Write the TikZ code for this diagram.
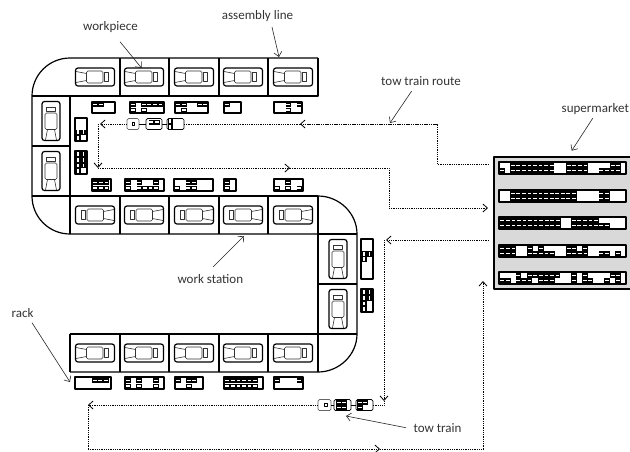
\documentclass[tikz,border=0pt]{standalone}
\usepackage{fontspec}
\setmainfont{Carlito}
\usetikzlibrary{arrows.meta}
\tikzset{
	wall/.style={line width=1.2pt},
	rackbox/.style={draw=black,fill=white,line width=1.1pt},
	route/.style={densely dotted,line width=.8pt},
	leader/.style={line width=.6pt,black!85},
	lbl/.style={anchor=base,inner sep=0pt,font=\fontsize{13}{15}\selectfont,black!80},
	cart/.style={draw=black!60,fill=white,rounded corners=1.5pt,line width=.7pt,inner sep=0pt,minimum height=11pt},
	car/.pic={
		\draw[line width=1.2pt,rounded corners=2.5pt] (-19.5,-9) rectangle (19.5,9);
		\draw[line width=.6pt,rounded corners=1.5pt,black!80] (-8.5,-6) rectangle (8,6);
		\draw[line width=.6pt,black!80] (-19,-5.5) -- (-8.5,-3.5) (-19,5.5) -- (-8.5,3.5);
		\draw[line width=.6pt,black!80] (9.5,-4.5) rectangle (13.5,4.5);
	}
}
\newcommand{\binrow}[3]{\foreach \i in {1,...,#3} {
	\fill[black] ({#1+(\i-1)*5.55},#2) rectangle +(5.55,5);
	\fill[white] ({#1+(\i-1)*5.55+.9},#2+1.6) rectangle +(3.75,1.7);}}
\newcommand{\bincol}[3]{\foreach \i in {1,...,#3} {
	\fill[black] (#1,{#2+(\i-1)*5.55}) rectangle +(5,5.55);
	\fill[white] (#1+1.6,{#2+(\i-1)*5.55+.9}) rectangle +(1.7,3.75);}}
\begin{document}
\begin{tikzpicture}[x=1pt,y=-1pt,>={Straight Barb[length=4.5pt,width=8pt]},line join=round]
	\useasboundingbox (0,0) rectangle (630,451);
	% line outline
	\draw[wall] (318,58) -- (70,58) .. controls (49,58) and (32,75) .. (32,96) -- (32,196) .. controls (32,217) and (49,234) .. (70,234) -- (318,234);
	\draw[wall] (318,196) .. controls (339,196) and (357,213) .. (357,234) -- (357,334) .. controls (357,355) and (339,372) .. (318,372) -- (70,372);
	\draw[wall] (70,96) -- (318,96) -- (318,58);
	\draw[wall] (70,196) -- (318,196) (70,334) -- (318,334) -- (318,372) (70,334) -- (70,372);
	\draw[wall] (32,96) -- (70,96) -- (70,234) (32,146) -- (70,146) (32,196) -- (70,196);
	\draw[wall] (318,196) -- (318,334) (318,234) -- (357,234) (318,284) -- (357,284) (318,334) -- (357,334);
	\foreach \x in {120,169,219,268}
		\draw[wall] (\x,58) -- (\x,96) (\x,196) -- (\x,234) (\x,334) -- (\x,372);
	% cars
	\foreach \x in {95,144,194,243,293} {
		\pic at (\x,77) {car};
		\pic[xscale=-1] at (\x,215) {car};
		\pic at (\x,353) {car};
	}
	\foreach \y in {121,171} \pic[rotate=90] at (51,\y) {car};
	\foreach \y in {259,309} \pic[rotate=90] at (338,\y) {car};
	% racks top
	\draw[rackbox] (92,102) rectangle (115,113);
	\binrow{92.5}{102}{2}
	\draw[rackbox] (130,102) rectangle (164,113);
	\binrow{130.5}{102}{1} \binrow{130.5}{107.5}{1} \binrow{141}{102}{1} \binrow{141}{107.5}{1} \binrow{146.5}{102}{3}
	\draw[rackbox] (175,102) rectangle (208,113);
	\binrow{175}{102}{1} \binrow{181}{102}{1} \binrow{181}{107.5}{1} \binrow{197}{102}{2}
	\draw[rackbox] (224,102) rectangle (241,113);
	\binrow{224.5}{102}{1}
	\draw[rackbox] (274,102) rectangle (302,113);
	\binrow{285.5}{102}{1} \binrow{285.5}{107.5}{1} \binrow{296.5}{102}{1}
	% racks middle
	\draw[rackbox] (92,179) rectangle (111,191);
	\binrow{92.5}{180}{3} \binrow{92.5}{185.5}{3}
	\draw[rackbox] (125,179) rectangle (164,191);
	\binrow{125.5}{180}{1} \binrow{136.5}{180}{1} \binrow{153}{180}{1} \binrow{125.5}{185.5}{1} \binrow{136.5}{185.5}{4}
	\draw[rackbox] (174,179) rectangle (213,191);
	\binrow{185.5}{180}{2} \binrow{174.5}{185.5}{1} \binrow{185.5}{185.5}{2}
	\draw[rackbox] (224,179) rectangle (236,191);
	\binrow{224.5}{180}{1} \binrow{224.5}{185.5}{1}
	\draw[rackbox] (274,179) rectangle (303,191);
	\binrow{285}{180}{1} \binrow{274.5}{185.5}{1} \binrow{285}{185.5}{1} \binrow{296.5}{185.5}{1}
	% racks bottom
	\draw[rackbox] (75,377) rectangle (111,389);
	\binrow{92}{378}{3}
	\draw[rackbox] (125,377) rectangle (164,389);
	\foreach \x in {125.5,136,153} {\binrow{\x}{378}{1} \binrow{\x}{383.5}{1}}
	\draw[rackbox] (175,377) rectangle (203,389);
	\binrow{175}{378}{1} \binrow{186}{378}{2} \binrow{186}{383.5}{1}
	\draw[rackbox] (224,377) rectangle (263,389);
	\binrow{224.5}{378}{6} \binrow{224.5}{383.5}{6}
	\draw[rackbox] (274,377) rectangle (303,389);
	\binrow{274.5}{378}{1} \binrow{296.5}{378}{1}
	% racks at the bends
	\draw[rackbox] (75,118) rectangle (87,141);
	\bincol{75.5}{129.5}{2} \bincol{81}{129.5}{1}
	\draw[rackbox] (75,151) rectangle (87,174);
	\bincol{75.5}{151.5}{4} \bincol{81}{151.5}{3}
	\draw[rackbox] (361,239) rectangle (373,279);
	\bincol{361.5}{251}{2} \bincol{367}{251}{1}
	\draw[rackbox] (361,289) rectangle (373,312);
	\bincol{361.5}{289.5}{4} \bincol{367}{289.5}{2}
	% supermarket
	\draw[fill=black!15,line width=1.4pt] (494,157) rectangle (632,289);
	\foreach \y in {162,190,217,245,272} \draw[rackbox] (499,\y) rectangle (626,\y+12);
	\binrow{510}{163}{8} \binrow{510}{168}{8} \binrow{566}{163}{4} \binrow{566}{168}{4} \binrow{610}{163}{2} \binrow{598.5}{168}{4} \binrow{499.5}{168}{1}
	\binrow{510}{191}{12} \binrow{510}{196}{12} \binrow{598.5}{191}{2} \binrow{598.5}{196}{2}
	\binrow{499.5}{218}{11} \binrow{499.5}{223}{11} \binrow{571}{218}{5} \binrow{571}{223}{5} \binrow{598.5}{223}{2}
	\binrow{499.5}{246}{3} \binrow{499.5}{251}{3} \binrow{527}{246}{1} \binrow{538}{246}{1} \binrow{527}{251}{5} \binrow{566}{246}{2} \binrow{582}{246}{1} \binrow{566}{251}{4} \binrow{598.5}{251}{2} \binrow{615}{251}{1}
	\binrow{515.5}{273}{1} \binrow{527}{273}{6} \binrow{571}{273}{1} \binrow{582}{273}{1} \binrow{610}{273}{2}
	\binrow{499.5}{278}{2} \binrow{515.5}{278}{3} \binrow{538}{278}{3} \binrow{571}{278}{1} \binrow{582}{278}{2} \binrow{604}{278}{1} \binrow{615}{278}{1}
	% tow trains
	\node[cart,minimum width=12pt] (cartA) at (133,124) {};
	\node[cart,draw=black,minimum width=16pt] (cartB) at (154,124) {};
	\node[cart,draw=black,minimum width=17pt] (cartC) at (175.5,124) {};
	\draw[line width=.7pt] (cartA) -- (cartB) (cartB) -- (cartC);
	\draw[line width=.6pt] (132,122.7) rectangle +(2.5,2.5);
	\binrow{148.5}{119.5}{2}
	\bincol{167.5}{118.5}{2}
	\node[cart,minimum width=13pt] (cartD) at (324.5,405) {};
	\node[cart,draw=black,minimum width=17pt] (cartE) at (342.5,405) {};
	\node[cart,draw=black,minimum width=17pt] (cartF) at (364.5,405) {};
	\draw[line width=.7pt] (cartD) -- (cartE) (cartE) -- (cartF);
	\draw[line width=.6pt] (324.5,403.5) rectangle +(3,3);
	\binrow{336}{400}{2} \binrow{336}{405}{2}
	\binrow{357}{400}{2} \binrow{357}{405}{1}
	% route
	\coordinate (smA) at (489,164);
	\coordinate (smB) at (437,164);
	\coordinate (rtA) at (437,124);
	\coordinate (rtAr) at (300,124);
	\coordinate (rtB) at (100,124);
	\coordinate (rtC) at (98,124);
	\coordinate (rtD) at (98,168);
	\coordinate (rtDr) at (290,168);
	\coordinate (rtE) at (389,168);
	\coordinate (rtF) at (389,208);
	\coordinate (smC) at (488,208);
	\coordinate (smD) at (489,240);
	\coordinate (rtG) at (386,240);
	\coordinate (rtH) at (384,240);
	\coordinate (rtI) at (384,405);
	\coordinate (rtJ) at (88,405);
	\coordinate (rtK) at (88,449);
	\coordinate (rtKr) at (380,449);
	\coordinate (rtL) at (483,449);
	\coordinate (smE) at (483,281);
	\draw[route] (smA) -- (smB) -- (rtA) -- (rtAr);
	\draw[route,->] (rtA) -- (rtAr);
	\draw[route] (rtAr) -- (cartC);
	\draw[route,->] (cartA) -- (rtB);
	\draw[route,->] (rtC) -- (rtD);
	\draw[route,->] (rtD) -- (rtDr);
	\draw[route] (rtDr) -- (rtE) -- (rtF);
	\draw[route,->] (rtF) -- (smC);
	\draw[route,->] (smD) -- (rtG);
	\draw[route,->] (rtH) -- (384,401);
	\draw[route] (384,401) -- (rtI) -- (cartF);
	\draw[route,->] (cartD) -- (rtJ);
	\draw[route] (rtJ) -- (rtK);
	\draw[route,->] (rtK) -- (rtKr);
	\draw[route] (rtKr) -- (rtL);
	\draw[route,->] (rtL) -- (smE);
	% labels
	\node[lbl] (workpiece) at (110.5,30.7) {workpiece};
	\node[lbl] (assembly) at (257.5,19) {assembly line};
	\node[lbl] (routeLbl) at (421,85.7) {tow train route};
	\node[lbl] (market) at (595.3,112.3) {supermarket};
	\node[lbl] (station) at (210.3,283.7) {work station};
	\node[lbl] (rackLbl) at (22.5,317) {rack};
	\node[lbl] (train) at (437.5,432) {tow train};
	\coordinate (workpieceTip) at (141.5,68);
	\coordinate (assemblyTip) at (279,57);
	\coordinate (routeTip) at (390,123);
	\coordinate (marketTip) at (571.7,150.7);
	\coordinate (stationTip) at (244,236);
	\coordinate (rackTip) at (70,382);
	\coordinate (trainTip) at (346,416);
	\draw[leader,->] ([shift={(9.5,11)}]workpiece.base) -- (workpieceTip);
	\draw[leader,->] ([shift={(14.5,8)}]assembly.base) -- (assemblyTip);
	\draw[leader,->] ([shift={(-9.3,5.3)}]routeLbl.base) -- (routeTip);
	\draw[leader,->] ([shift={(-2.6,6)}]market.base) -- (marketTip);
	\draw[leader,->] ([shift={(2.7,-16.7)}]station.base) -- (stationTip);
	\draw[leader,->] ([shift={(9.5,5.7)}]rackLbl.base) -- (rackTip);
	\draw[leader,->] ([shift={(-31.5,-4.3)}]train.base) -- (trainTip);
\end{tikzpicture}
\end{document}
